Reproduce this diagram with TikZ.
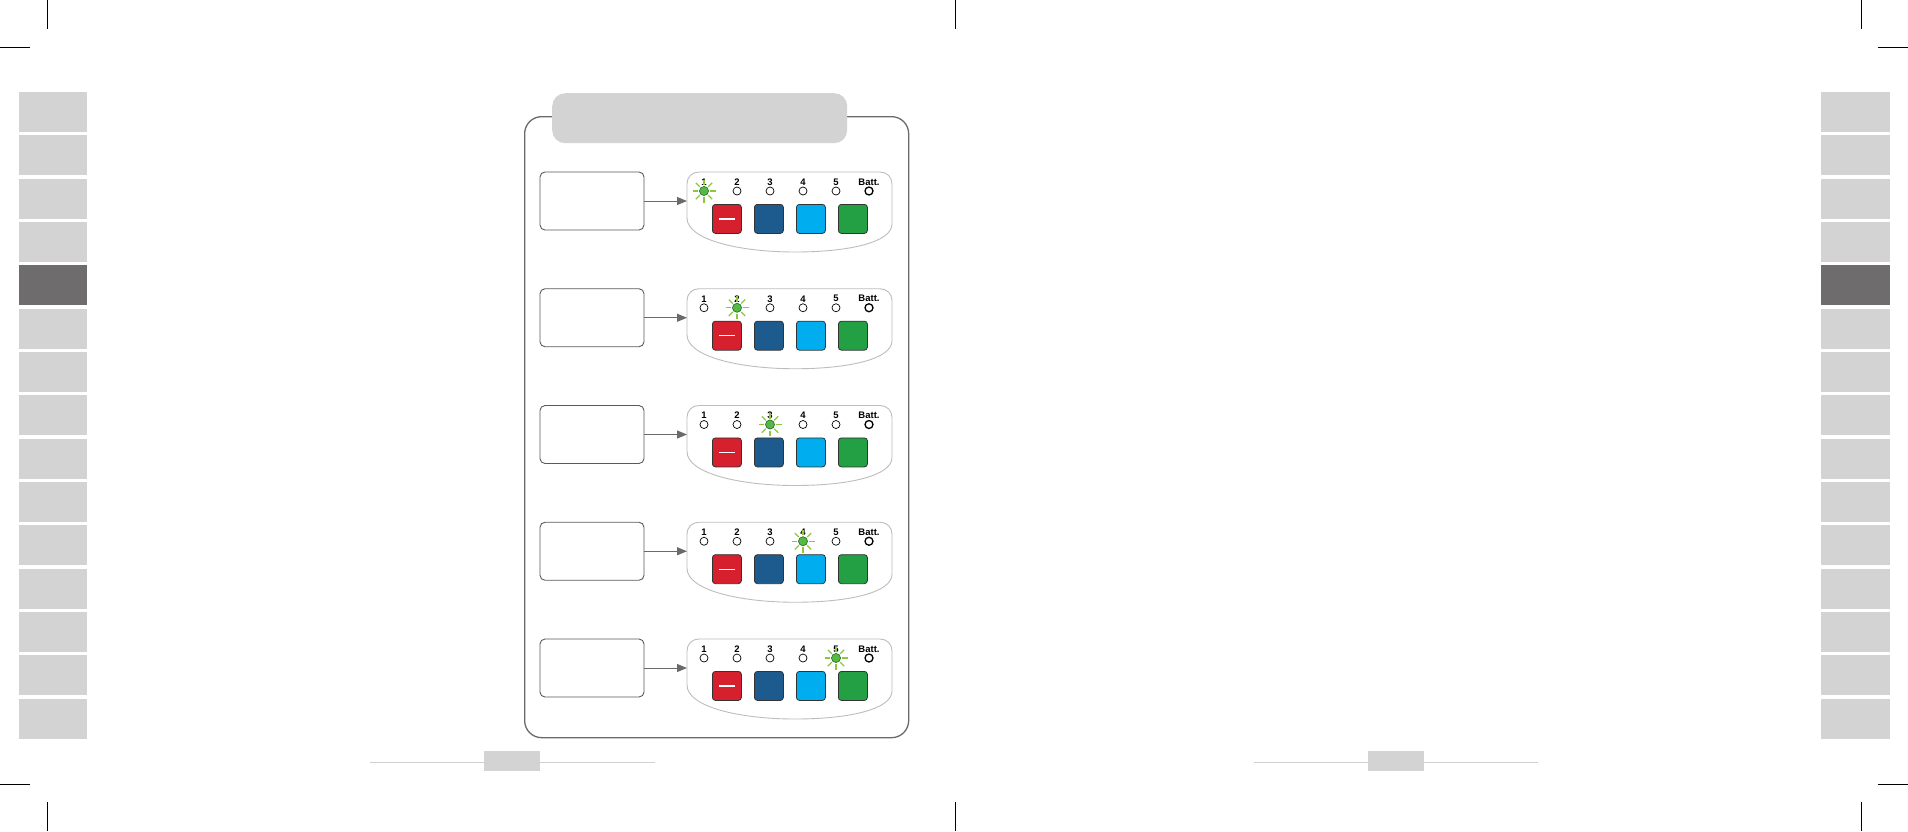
\documentclass[tikz,border=0pt]{standalone}
\usepackage{fontspec}
\setmainfont{Liberation Sans}
\usetikzlibrary{arrows.meta}
\definecolor{tabgrey}{HTML}{D3D3D3}
\definecolor{tabdark}{HTML}{6E6C6C}
\definecolor{framegrey}{HTML}{6A6A6A}
\definecolor{panelgrey}{HTML}{BDBDBD}
\definecolor{boxgrey}{HTML}{5A5A5A}
\definecolor{btnred}{HTML}{D6202E}
\definecolor{btndblue}{HTML}{1D5A8E}
\definecolor{btnlblue}{HTML}{00AEEF}
\definecolor{btngreen}{HTML}{22A043}
\definecolor{ledgreen}{HTML}{56B947}
\definecolor{ledrim}{HTML}{2F7A2A}
\definecolor{raygreen}{HTML}{8DC63F}
\definecolor{footline}{HTML}{D0D0D0}
\begin{document}
\begin{tikzpicture}[x=1pt,y=-1pt,
  tabbox/.style={fill=tabgrey,draw=none},
  cropline/.style={black,line width=1pt},
  framebox/.style={draw=framegrey,line width=1.3pt,rounded corners=17pt,inner sep=0pt,anchor=north west},
  titlebox/.style={fill=tabgrey,draw=none,rounded corners=13pt,inner sep=0pt,anchor=north west,minimum width=295pt,minimum height=50pt},
  infobox/.style={draw=boxgrey,line width=0.9pt,rounded corners=5pt,inner sep=0pt,outer sep=0pt,anchor=north west,minimum width=104pt,minimum height=58pt},
  panelline/.style={draw=panelgrey,line width=0.9pt},
  conn/.style={draw=framegrey,line width=1pt,-{Triangle[length=10pt,width=8pt]}},
  ledlab/.style={font=\bfseries\fontsize{9.5}{9.5}\selectfont,inner sep=0pt},
  ledoff/.style={circle,draw=black,line width=0.7pt,fill=white,minimum size=8pt,inner sep=0pt},
  ledbatt/.style={circle,draw=black,line width=1.3pt,fill=white,minimum size=8pt,inner sep=0pt},
  ledon/.style={circle,draw=ledrim,line width=0.7pt,fill=ledgreen,minimum size=9pt,inner sep=0pt},
  ray/.style={draw=raygreen,line width=1.1pt},
  button/.style={draw=black!80,line width=0.8pt,rounded corners=3pt,inner sep=0pt,anchor=north west,minimum size=29pt},
  footbox/.style={fill=tabgrey,draw=none},
  footrule/.style={draw=footline,line width=1pt}
]
\useasboundingbox (0,0) rectangle (1908,831);
\fill[white] (0,0) rectangle (1908,831);

% crop marks
\draw[cropline] (47,0) -- (47,29);
\draw[cropline] (0,47) -- (30,47);
\draw[cropline] (955,0) -- (955,29);
\draw[cropline] (1861,0) -- (1861,29);
\draw[cropline] (1878,47) -- (1908,47);
\draw[cropline] (0,784) -- (30,784);
\draw[cropline] (47,802) -- (47,831);
\draw[cropline] (955,802) -- (955,831);
\draw[cropline] (1878,784) -- (1908,784);
\draw[cropline] (1861,802) -- (1861,831);

% side tabs
\foreach \i in {0,...,14}{
  \pgfmathsetmacro\ty{92+43.33*\i}
  \fill[tabgrey] (19,\ty) rectangle (87,\ty+40);
  \fill[tabgrey] (1821,\ty) rectangle (1890,\ty+40);
}
\fill[tabdark] (19,265.3) rectangle (87,305.3);
\fill[tabdark] (1821,265.3) rectangle (1890,305.3);

% footers
\draw[footrule] (370,762) -- (655,762);
\fill[footbox] (484,751) rectangle (540,771);
\draw[footrule] (1254,762) -- (1538,762);
\fill[footbox] (1368,751) rectangle (1424,771);

% frame and title
\node[framebox,minimum width=384pt,minimum height=621pt] (frame) at (524,116) {};
\node[titlebox] (title) at (552,93) {};

% rows
\foreach \r in {1,...,5}{
  \pgfmathsetmacro\T{172+116.75*(\r-1)}
  \node[infobox] (box\r) at (540,\T) {};
  \draw[panelline] (687,\T+46) -- (687,\T+12)
     .. controls (687,\T+5) and (692,\T) .. (699,\T) -- (880,\T)
     .. controls (887,\T) and (892,\T+5) .. (892,\T+12) -- (892,\T+52)
     .. controls (892,\T+70) and (850,\T+80) .. (795,\T+80)
     .. controls (740,\T+80) and (687,\T+68) .. (687,\T+46) -- cycle;
  \coordinate (pin\r) at (687,\T+29);
  \draw[conn] (box\r.east) -- (box\r.east -| pin\r);
  \foreach \k/\lab in {0/1,1/2,2/3,3/4,4/5,5/Batt.}{
    \node[ledlab] (lab\r-\k) at (704+33*\k,\T+10) {\lab};
  }
  \foreach \k in {0,...,4}{
    \node[ledoff] (led\r-\k) at (704+33*\k,\T+19) {};
  }
  \node[ledbatt] (led\r-5) at (869,\T+19) {};
  \pgfmathtruncatemacro\lit{\r-1}
  \foreach \a in {0,45,...,315}{
    \draw[ray] (led\r-\lit.center) ++(\a:6pt) -- ++(\a:5.5pt);
  }
  \node[ledon] (lit\r) at (led\r-\lit.center) {};
  \node[button,fill=btnred] (btn\r-0) at (712,\T+32) {};
  \node[button,fill=btndblue] (btn\r-1) at (754,\T+32) {};
  \node[button,fill=btnlblue] (btn\r-2) at (796,\T+32) {};
  \node[button,fill=btngreen] (btn\r-3) at (838,\T+32) {};
  \draw[white,line width=1.2pt] (btn\r-0.center) ++(-8pt,0) -- ++(16pt,0);
}
\end{tikzpicture}
\end{document}
